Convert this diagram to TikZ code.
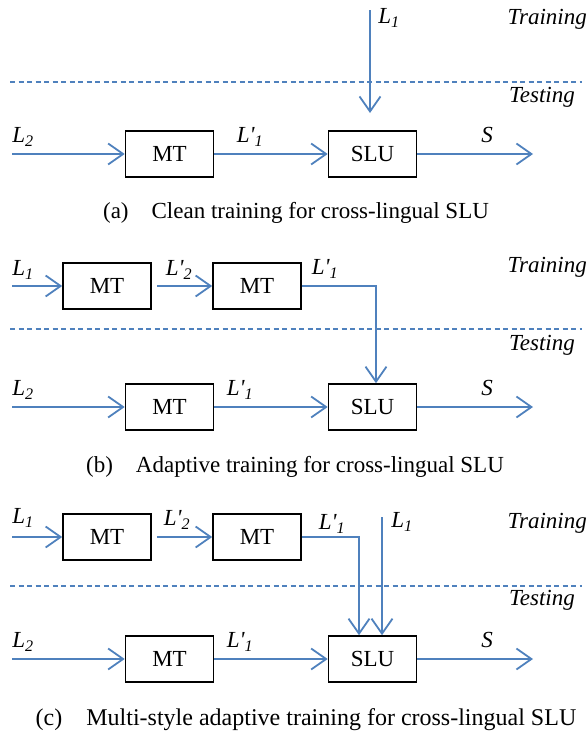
\documentclass[tikz,border=0pt]{standalone}
\usepackage{fontspec}
\setmainfont{Liberation Serif}
\usetikzlibrary{arrows.meta}
\definecolor{lineblue}{RGB}{79,129,189}
\newcommand{\Lsub}[1]{\textit{L\textsubscript{#1}}}
\newcommand{\Lprime}[1]{\textit{L\textquotesingle\textsubscript{#1}}}

\begin{document}
\begin{tikzpicture}[x=1pt,y=-1pt,
    font=\fontsize{23}{27}\selectfont,
    box/.style={draw=black,line width=1.6pt,minimum width=88pt,minimum height=46pt,inner sep=0pt},
    flow/.style={draw=lineblue,line width=1.8pt,-{Straight Barb[length=15pt,width=21pt]}},
    split/.style={draw=lineblue,line width=1.1pt,dash pattern=on 5pt off 3.5pt},
    tag/.style={font=\fontsize{23}{27}\selectfont\itshape,inner sep=0pt}]
  \useasboundingbox (0,0) rectangle (588,736);
  \foreach \p/\y/\d/\tr/\te/\lx/\cx/\cy/\txt in {
      a/154/82/19/97/250/296/213/{(a)\hspace{1em}Clean training for cross-lingual SLU},
      b/407/329/267/345/240/295/467/{(b)\hspace{1em}Adaptive training for cross-lingual SLU},
      c/659/586/523/600/240/306/720/{\fontsize{24}{28}\selectfont(c)\hspace{1em}Multi-style adaptive training for cross-lingual SLU}} {
    \draw[split] (10,\d) -- (582,\d);
    \node[tag,anchor=east] (train\p) at (587,\tr) {Training};
    \node[tag,anchor=east] (test\p) at (575,\te) {Testing};
    \coordinate (in\p) at (12,\y);
    \coordinate (out\p) at (533,\y);
    \node[box] (mt\p) at (169.5,\y) {MT};
    \node[box] (slu\p) at (372.5,\y) {SLU};
    \node[tag] (l2\p) at (23,\y-17) {\Lsub{2}};
    \node[tag] (l1p\p) at (\lx,\y-17) {\Lprime{1}};
    \node[tag] (s\p) at (487,\y-19) {S};
    \draw[flow] (in\p) -- (mt\p);
    \draw[flow] (mt\p) -- (slu\p);
    \draw[flow] (slu\p) -- (out\p);
    \node (cap\p) at (\cx,\cy) {\txt};
  }
  \coordinate (srca) at (370,10);
  \coordinate (tipa) at (370,113);
  \draw[flow] (srca) -- (tipa);
  \node[tag] (l1a) at (389,18) {\Lsub{1}};
  \node[box] (mt1b) at (107,286) {MT};
  \node[box] (mt2b) at (257,286) {MT};
  \coordinate (srcb) at (12,286);
  \coordinate (bendb) at (376,286);
  \draw[flow] (srcb) -- (mt1b);
  \draw[flow] ([xshift=5pt]mt1b.east) -- (mt2b);
  \draw[flow] (mt2b.east) -- (bendb) -- (bendb |- slub.north);
  \node[tag] (l1b) at (23,270) {\Lsub{1}};
  \node[tag] (l2pb) at (179,270) {\Lprime{2}};
  \node[tag] (l1pb) at (325,269) {\Lprime{1}};
  \node[box] (mt1c) at (107,537) {MT};
  \node[box] (mt2c) at (257,537) {MT};
  \coordinate (srcc) at (12,537);
  \coordinate (bendc) at (359,537);
  \coordinate (srcd) at (382,517);
  \draw[flow] (srcc) -- (mt1c);
  \draw[flow] ([xshift=5pt]mt1c.east) -- (mt2c);
  \draw[flow] (mt2c.east) -- (bendc) -- (bendc |- sluc.north);
  \draw[flow] (srcd) -- (srcd |- sluc.north);
  \node[tag] (l1c) at (23,518) {\Lsub{1}};
  \node[tag] (l2pc) at (177,520) {\Lprime{2}};
  \node[tag] (l1pc) at (332,524) {\Lprime{1}};
  \node[tag] (l1d) at (402,522) {\Lsub{1}};
\end{tikzpicture}
\end{document}
